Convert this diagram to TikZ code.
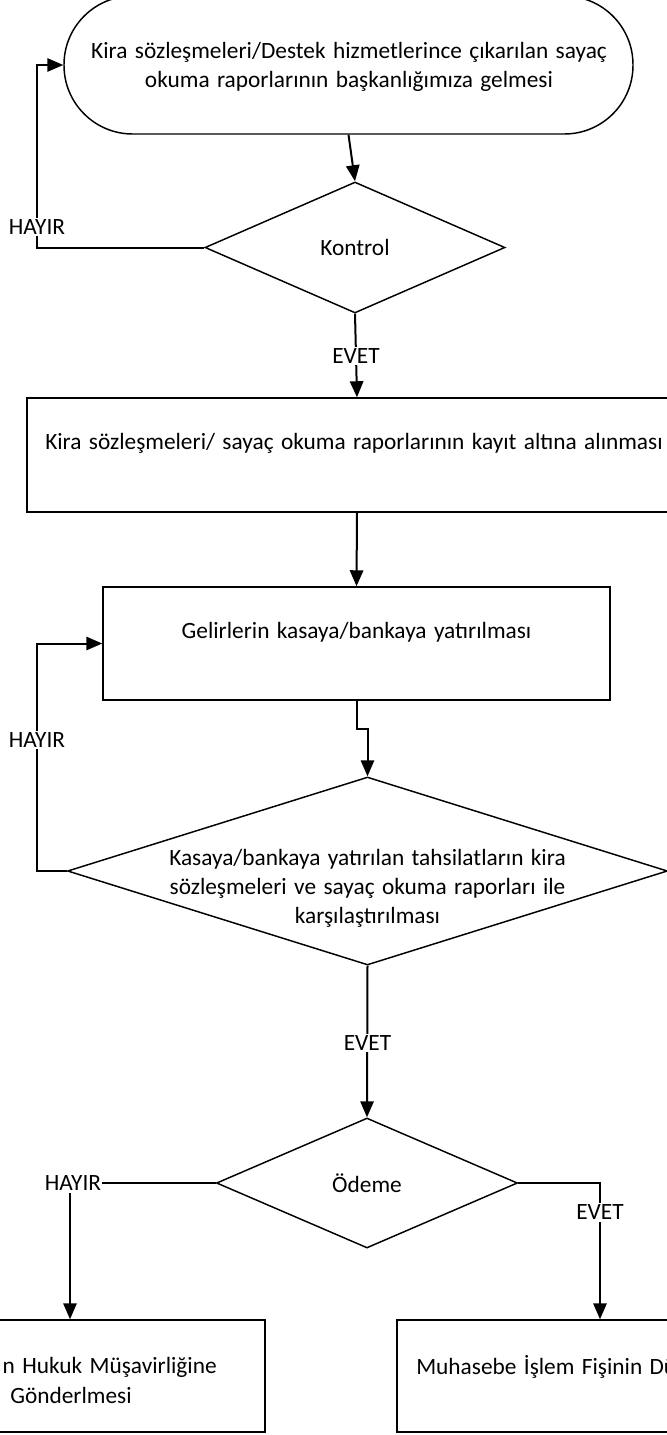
\documentclass[tikz,border=0pt]{standalone}
\usepackage{fontspec}
\setmainfont[WordSpace=1.4]{Carlito}
\usetikzlibrary{arrows.meta,shapes.geometric}
\begin{document}
\begin{tikzpicture}[x=0.75pt,y=-0.75pt,
  shp/.style={draw, line width=1.1pt, inner sep=0pt},
  boxs/.style={shp, rectangle},
  dia/.style={shp, diamond},
  conn/.style={line width=1.5pt, -{Triangle[length=12pt,width=10pt]}},
  txt/.style={font=\fontsize{17.5}{21.75}\selectfont, align=center, inner sep=0pt},
  lbl/.style={font=\fontsize{17.5}{21.75}\selectfont, fill=white, inner xsep=1pt, inner ysep=1.5pt}]
\useasboundingbox (0,0) rectangle (667,1435);
\clip (0,0) rectangle (667,1435);
\fill[white] (0,0) rectangle (667,1435);
\coordinate (c1) at (37,0);

\node[shp, rectangle, rounded corners=51.5pt, minimum width=426.75pt, minimum height=103.5pt] (start) at (348.5,65) {};
\node[txt] (t1) at (349,67) {Kira sözleşmeleri/Destek hizmetlerince çıkarılan sayaç\\okuma raporlarının başkanlığımıza gelmesi};

\node[dia, minimum width=225pt, minimum height=98.25pt] (k) at (355,247.5) {};
\node[txt] (tk) at (355,247.5) {Kontrol};

\node[boxs, minimum width=495pt, minimum height=85.5pt] (b2) at (357,455) {};
\node[txt, anchor=west] (t2) at (45,443) {Kira sözleşmeleri/ sayaç okuma raporlarının kayıt altına alınması};

\node[boxs, minimum width=380.25pt, minimum height=84.75pt] (b3) at (356.5,643.5) {};
\node[txt] (t3) at (356.5,632) {Gelirlerin kasaya/bankaya yatırılması};

\node[dia, minimum width=450pt, minimum height=141pt] (d2) at (367.5,871) {};
\node[txt] (td2) at (367.5,888) {Kasaya/bankaya yatırılan tahsilatların kira\\sözleşmeleri ve sayaç okuma raporları ile\\karşılaştırılması};

\node[dia, minimum width=225.75pt, minimum height=97.5pt] (d3) at (367,1183) {};
\node[txt] (td3) at (367,1183) {Ödeme};

\node[boxs, minimum width=292.5pt, minimum height=84pt] (b4) at (70,1376) {};
\node[txt, anchor=east] (t4a) at (217,1367) {n Hukuk Müşavirliğine};
\node[txt] (t4b) at (71,1395) {Gönderlmesi};

\node[boxs, minimum width=304.5pt, minimum height=84pt] (b5) at (600,1376) {};
\node[txt, anchor=west] (t5) at (416,1367) {Muhasebe İşlem Fişinin Dü};

\draw[conn] (start.south) -- (k.north);
\draw[conn] (k.west) -- (k.west -| c1) |- (start.west);
\node[lbl] (h1) at (37,227) {HAYIR};

\draw[conn] (k.south) -- (b2.north);
\node[lbl] (e1) at (356,356) {EVET};

\draw[conn] (b2.south) -- (b3.north);
\draw[conn] (b3.south) -- ++(0,28) -| (d2.north);
\draw[conn] (d2.west) -- (d2.west -| c1) |- (b3.west);
\node[lbl] (h2) at (37,740) {HAYIR};

\draw[conn] (d2.south) -- (d3.north);
\node[lbl] (e2) at (367.5,1043) {EVET};

\draw[conn] (d3.west) -| (b4.north);
\node[lbl] (h3) at (73,1183) {HAYIR};

\draw[conn] (d3.east) -| (b5.north);
\node[lbl] (e3) at (600,1212) {EVET};
\end{tikzpicture}
\end{document}
